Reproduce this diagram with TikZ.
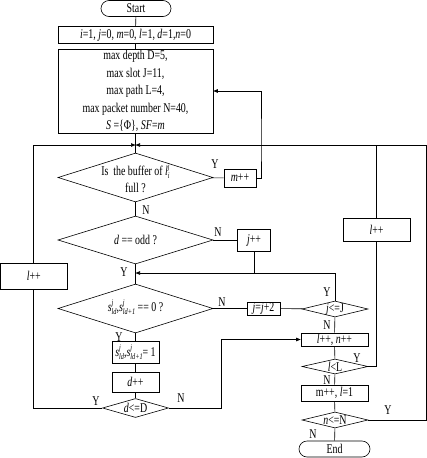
\documentclass[tikz,border=0pt]{standalone}
\usepackage{fontspec}
\setmainfont[FakeStretch=0.74]{Liberation Serif}
\usetikzlibrary{shapes.geometric,arrows.meta}
\newcommand\smallscr[1]{{\fontsize{8.5}{8.5}\selectfont\textit{#1}}}
\newcommand\subsup[3]{\textit{#1}\rlap{\raisebox{0.42em}{\smallscr{#2}}}\raisebox{-0.22em}{\smallscr{#3}}}
\begin{document}
\begin{tikzpicture}[x=1pt,y=-1pt, line width=0.6pt, font=\fontsize{13.4}{17.4}\selectfont,
  box/.style={draw, rectangle, inner sep=0pt, align=center},
  term/.style={draw, rectangle, rounded corners=8pt, inner sep=0pt},
  dia/.style={draw, diamond, inner sep=0pt},
  txt/.style={inner sep=0pt, align=center},
  lab/.style={inner sep=0pt},
  arr/.style={-{Triangle[length=4.5pt,width=3.5pt]}},
]
\useasboundingbox (0,0) rectangle (427,458);
% nodes
\node[term, minimum width=70pt, minimum height=16pt] (start) at (136,8.5) {Start};
\node[box, minimum width=155pt, minimum height=17pt] (init) at (135.5,35) {\textit{i}=1, \textit{j}=0, \textit{m}=0, \textit{l}=1, \textit{d}=1,\textit{n}=0};
\node[box, minimum width=155pt, minimum height=84pt] (params) at (135.5,91) {max depth D=5,\\ max slot J=11,\\ max path L=4,\\ max packet number N=40,\\ \textit{S} =\{Φ\}, \textit{SF}=\textit{m}};
\node[dia, minimum width=155pt, minimum height=49pt] (d1) at (135.5,177.5) {};
\node[txt] (t1) at (135.5,178.5) {Is\ \ the buffer of \subsup{l}{j}{i}\\ full ?};
\node[box, minimum width=32pt, minimum height=18pt] (mpp) at (240,178) {\textit{m}++};
\node[dia, minimum width=155pt, minimum height=48pt] (d2) at (135.5,240) {};
\node[txt] (t2) at (135.5,240) {\textit{d} == odd ?};
\node[box, minimum width=33pt, minimum height=22pt] (jpp) at (254,240) {\textit{j}++};
\node[dia, minimum width=155pt, minimum height=49pt] (d3) at (135.5,308.5) {};
\node[txt] (t3) at (135.5,307) {\subsup{s}{j}{ld},\subsup{s}{j}{ld+1} == 0 ?};
\node[box, minimum width=33pt, minimum height=13pt] (jj2) at (263.5,308.5) {\textit{j}=\textit{j}+2};
\node[dia, minimum width=66pt, minimum height=16pt] (djJ) at (335,309) {};
\node[txt] (t4) at (335,309) {\textit{j}<=J};
\node[box, minimum width=67pt, minimum height=13pt] (lnpp) at (334.5,339.5) {\textit{l}++, \textit{n}++};
\node[box, minimum width=47pt, minimum height=22pt] (sbox) at (135.5,352) {\subsup{s}{j}{ld},\subsup{s}{j}{ld+1}= 1};
\node[box, minimum width=47pt, minimum height=20pt] (dpp) at (135.5,382) {\textit{d}++};
\node[dia, minimum width=66pt, minimum height=19pt] (dD) at (135.5,408) {};
\node[txt] (t5) at (135.5,408) {\textit{d}<=D};
\node[dia, minimum width=66pt, minimum height=15pt] (lL) at (335,366.5) {};
\node[txt] (t6) at (335,366.5) {\textit{l}<L};
\node[box, minimum width=67pt, minimum height=16pt] (ml1) at (334.5,393) {m++, \textit{l}=1};
\node[dia, minimum width=66pt, minimum height=16pt] (nN) at (335,420) {};
\node[txt] (t7) at (335,420) {\textit{n}<=N};
\node[term, minimum width=71pt, minimum height=16pt] (end) at (334.5,449) {End};
\node[box, minimum width=66.5pt, minimum height=26pt] (lppL) at (33.75,276) {\textit{l}++};
\node[box, minimum width=67pt, minimum height=23pt] (lppR) at (376.5,229.5) {\textit{l}++};
% junctions
\coordinate (J1) at (135.5,145);
\coordinate (J2) at (135.5,273);
\coordinate (k1) at (261,145);
\coordinate (k2) at (221,339.5);
\coordinate (k3) at (426,145);
% connectors
\draw (start) -- (init);
\draw (init) -- (params);
\draw (params) -- (d1);
\draw (d1) -- (mpp);
\draw[arr] (mpp.east) -| (k1) |- (params.east);
\draw (d1) -- (d2);
\draw (d2) -- (jpp);
\draw (jpp.south) -- (jpp.south |- J2);
\draw[arr] (djJ.north) |- (J2);
\draw (d2) -- (d3);
\draw (d3) -- (jj2);
\draw (jj2) -- (djJ);
\draw (djJ) -- (lnpp);
\draw (d3) -- (sbox);
\draw (sbox) -- (dpp);
\draw (dpp) -- (dD);
\draw[arr] (dD.east) -| (k2) -- (lnpp.west);
\draw (dD.west) -| (lppL.south);
\draw[arr] (lppL.north) |- (J1);
\draw (lnpp) -- (lL);
\draw (lL) -- (ml1);
\draw (ml1) -- (nN);
\draw (nN) -- (end);
\draw (lL.east) -| (lppR.south);
\draw (lppR.north) -- (lppR.north |- J1);
\draw[arr] (nN.east) -| (k3) -- (J1);
% labels
\node[lab] (y1) at (215,164) {Y};
\node[lab] (n1) at (146,210) {N};
\node[lab] (n2) at (218,232) {N};
\node[lab] (y2) at (124,272) {Y};
\node[lab] (n3) at (222,302) {N};
\node[lab] (y3) at (327,292) {Y};
\node[lab] (n4) at (327,325) {N};
\node[lab] (y4) at (119,337) {Y};
\node[lab] (y5) at (96,401) {Y};
\node[lab] (n5) at (181,398) {N};
\node[lab] (y6) at (357,358) {Y};
\node[lab] (n6) at (327,380) {N};
\node[lab] (y7) at (388,410) {Y};
\node[lab] (n7) at (313,434) {N};
\end{tikzpicture}
\end{document}
